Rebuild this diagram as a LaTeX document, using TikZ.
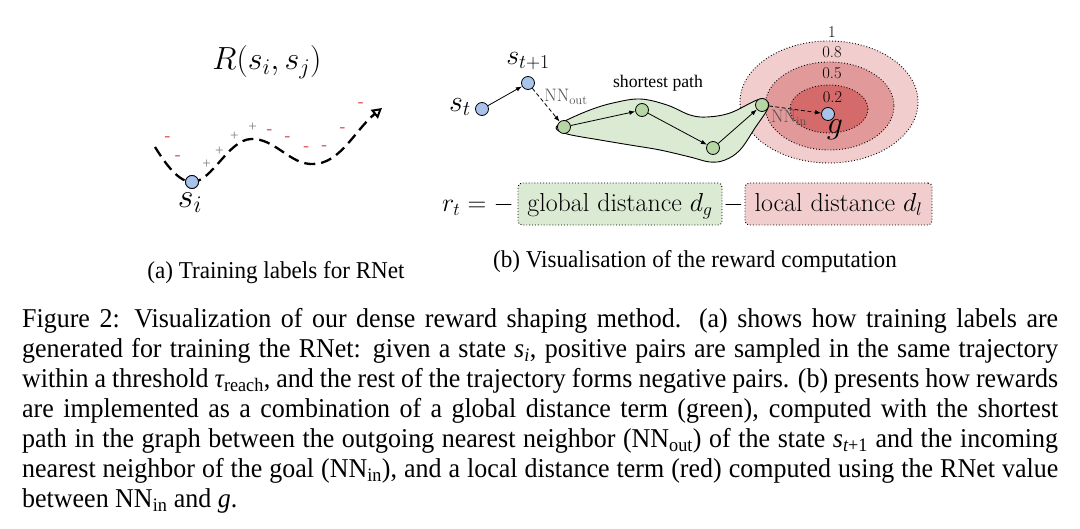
\RequirePackage{fix-cm}
\documentclass[tikz,border=0pt]{standalone}
\usepackage{fontspec}
\newfontfamily\tms{Liberation Serif}
\newfontfamily\tmsc{Liberation Serif}[FakeStretch=0.955]
\usetikzlibrary{arrows.meta}
\definecolor{nblue}{RGB}{169,196,235}
\definecolor{ngreen}{RGB}{182,214,166}
\definecolor{garea}{RGB}{219,234,211}
\definecolor{rout}{RGB}{242,205,205}
\definecolor{rmid}{RGB}{225,153,153}
\definecolor{rin}{RGB}{213,106,106}
\definecolor{mred}{RGB}{222,90,90}
\definecolor{pgray}{RGB}{125,125,125}
\definecolor{lblgray}{RGB}{80,80,80}
\newcommand\fsz[1]{\fontsize{#1}{#1}\selectfont}
\begin{document}
\begin{tikzpicture}[x=1pt,y=-1pt,
  stnode/.style={circle, draw, line width=0.8pt, fill=nblue, minimum size=13pt, inner sep=0pt},
  gnode/.style={circle, draw, line width=0.8pt, fill=ngreen, minimum size=13pt, inner sep=0pt},
  arr/.style={-{Latex[length=6pt,width=4.5pt]}, line width=0.8pt},
  darr/.style={arr, dash pattern=on 4pt off 2.5pt},
  traj/.style={line width=2.3pt, dash pattern=on 11pt off 6pt, -{Triangle[open, length=10pt, width=11pt, line width=2pt]}},
  minus/.style={text=mred, font=\tms\fsz{18}, inner sep=0pt},
  plus/.style={text=pgray, font=\tms\fsz{15}, inner sep=0pt},
  lvl/.style={draw, dotted, line width=0.9pt},
  lvllbl/.style={font=\fsz{16.5}, inner sep=0pt},
  dbox/.style={draw, dotted, line width=0.9pt, rounded corners=4pt, minimum height=42pt, text height=22pt, text depth=6pt, inner xsep=0pt, font=\fsz{26}},
  mlbl/.style={inner sep=0pt},
  sublbl/.style={font=\tmsc\fsz{24.2}, anchor=base, inner sep=0pt}
]
\useasboundingbox (0,0) rectangle (1080,529);

% ---------- (a) ----------
\node[mlbl, font=\fsz{32}] (R) at (267,62) {$R(s_i, s_j)$};
\coordinate (tstart) at (155,147);
\coordinate (peak) at (251,139);
\coordinate (trough) at (313,164);
\coordinate (tend) at (382,108);
\node[stnode] (si) at (192,182) {};
\draw[traj] (tstart) .. controls (168,168) and (180,182) .. (si.center)
  .. controls (212,182) and (228,140) .. (peak)
  .. controls (275,138) and (290,165) .. (trough)
  .. controls (340,164) and (355,130) .. (tend);
\node[stnode] at (si) {};
\node[mlbl, font=\fsz{34}] (silbl) at (190,203) {$s_i$};
\foreach \p/\q in {167.3/139.3, 177.7/157.7, 269.3/132.3, 287.3/139.3, 306/149, 324/148.3, 342.3/130, 360.7/105}
  \node[minus] at (\p,\q) {-};
\foreach \p/\q in {206.7/164.3, 219.3/151.7, 234.3/136.7, 252.7/127.3}
  \node[plus] at (\p,\q) {+};

% ---------- (b) ----------
\draw[lvl, fill=rout] (829,102) ellipse [x radius=89, y radius=61];
\draw[lvl, fill=rmid] (829.5,106) ellipse [x radius=64.5, y radius=44];
\draw[lvl, fill=rin] (829,109) ellipse [x radius=39, y radius=24];
\node[lvllbl] (l1) at (832,32) {1};
\node[lvllbl] (l08) at (832,52) {0.8};
\node[lvllbl] (l05) at (832,73) {0.5};
\node[lvllbl] (l02) at (832.5,97) {0.2};

\draw[line width=0.9pt, fill=garea] plot[smooth cycle, tension=0.6] coordinates {
 (556,128) (565,121) (590,110) (613,103) (640,99) (667,105) (690,115) (707,117)
 (730,113) (757,100) (766,100) (768,108) (755,128) (740,150) (725,160) (710,162)
 (690,157) (660,150) (630,145) (600,140) (567,134)};

\node[stnode] (st) at (482,109) {};
\node[stnode] (st1) at (528,83) {};
\node[gnode] (n1) at (564,127) {};
\node[gnode] (n2) at (642,110) {};
\node[gnode] (n3) at (713,148) {};
\node[gnode] (n4) at (762,105) {};
\node[stnode] (g) at (828,114) {};

\draw[arr] (st) -- (st1);
\draw[darr] (st1) -- (n1);
\draw[arr] (n1) -- (n2);
\draw[arr] (n2) -- (n3);
\draw[arr] (n3) -- (n4);
\draw[darr] (n4) -- (g);

\node[mlbl, font=\fsz{30}] (stl) at (460,107) {$s_t$};
\node[mlbl, font=\fsz{28}] (st1l) at (528,61) {$s_{t+1}$};
\node[mlbl, font=\fsz{18}, text=lblgray] (nnout) at (566,97) {$\mathrm{NN}_{\mathrm{out}}$};
\node[mlbl, font=\fsz{18}, text=lblgray] (nnin) at (789,118) {$\mathrm{NN}_{\mathrm{in}}$};
\node[mlbl, font=\tms\fsz{17.7}] (sp) at (658,83) {shortest path};
\node[mlbl, font=\fsz{32}] (gl) at (835,130) {$g$};

% formula
\node[font=\fsz{26}, anchor=base east, inner sep=0pt] (rt) at (514,212) {$r_t = -$};
\node[dbox, fill=garea, minimum width=204pt] (gd) at (620,204) {global distance $d_g$};
\node[font=\fsz{26}, anchor=base, inner sep=0pt] (mn) at (733.5,212) {$-$};
\node[dbox, fill=rout, minimum width=187pt] (ld) at (838.5,204) {local distance $d_l$};

% sub-captions
\node[sublbl] (capa) at (276,279) {(a) Training labels for RNet};
\node[sublbl] (capb) at (695,268) {(b) Visualisation of the reward computation};

% caption
\node[anchor=north west, inner sep=0pt, text width=1036pt, align=justify,
      font=\tmsc\fontsize{27.2}{30}\selectfont] (cap) at (22,308) {%
\hyphenpenalty=10000\tolerance=10000%
Figure 2: Visualization of our dense reward shaping method. (a) shows how training labels are\linebreak
generated for training the RNet: given a state {\itshape s}\textsubscript{\itshape i}, positive pairs are sampled in the same trajectory\linebreak
within a threshold {\itshape τ}\textsubscript{reach}, and the rest of the trajectory forms negative pairs. (b) presents how rewards\linebreak
are implemented as a combination of a global distance term (green), computed with the shortest\linebreak
path in the graph between the outgoing nearest neighbor (NN\textsubscript{out}) of the state {\itshape s}\textsubscript{{\itshape t}+1} and the incoming\linebreak
nearest neighbor of the goal (NN\textsubscript{in}), and a local distance term (red) computed using the RNet value\linebreak
between NN\textsubscript{in} and {\itshape g}.};
\end{tikzpicture}
\end{document}
